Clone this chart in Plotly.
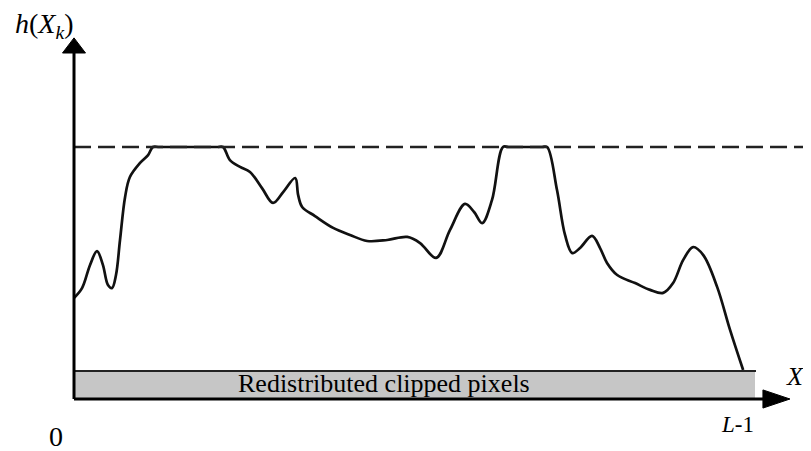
import plotly.graph_objects as go

# Histogram h(X_k) (gray level 0..255, clip limit = 100)
gray_levels = [0, 3.0, 6.0, 8.6, 10.8, 12.7, 14.2, 15.7, 17.2, 19.1, 20.9, 24.7, 27.7, 29.5, 32.0,
               53.5, 55.7, 58.3, 62.1, 65.8, 70.3, 74.4, 78.2, 82.7, 83.8, 85.3, 90.1, 96.9, 103.2,
               109.6, 117.1, 124.6, 129.4, 135.4, 140.6, 146.2, 149.6, 152.6, 156.3, 160.4, 162.5,
               175.0, 176.9, 180.6, 183.6, 186.3, 189.2, 193.7, 196.7, 199.3, 203.1, 209.8, 215.4,
               220.3, 224.0, 227.8, 231.5, 235.3, 240.5, 245.3, 250.2]
hist_values = [40.1, 44.0, 53.2, 58.7, 53.2, 45.2, 44.0, 49.2, 63.1, 80.2, 88.1, 93.7, 96.8, 100, 100,
               100, 100, 94.8, 92.1, 90.1, 83.7, 77.8, 82.1, 87.7, 81.0, 76.2, 72.6, 67.9, 65.1,
               62.7, 63.1, 64.3, 61.9, 56.0, 67.1, 77.4, 74.2, 69.8, 79.0, 100, 100,
               100, 100, 82.9, 65.1, 57.9, 59.9, 64.7, 59.9, 54.0, 49.2, 46.0, 43.3,
               42.1, 46.0, 55.2, 60.3, 57.1, 44.4, 27.4, 11.5]
clip_limit = 100
redistributed = 11.1
max_level = 255

SERIF = "Liberation Serif, Times New Roman, serif"

fig = go.Figure()
fig.add_trace(go.Scatter(x=gray_levels, y=hist_values, mode="lines",
                         line=dict(color="#111", width=2.7, shape="spline", smoothing=1.0),
                         hoverinfo="skip", showlegend=False))

shapes = [
    # redistributed clipped pixels bar
    dict(type="rect", x0=0, x1=max_level, y0=0, y1=redistributed, fillcolor="#c6c6c6",
         line=dict(color="white", width=2), layer="below"),
    dict(type="line", x0=0, x1=max_level, y0=redistributed, y1=redistributed,
         line=dict(color="#222", width=2)),
    # clip limit dashed line
    dict(type="line", x0=0, x1=272.6, y0=clip_limit, y1=clip_limit,
         line=dict(color="#222", width=2.5, dash="17px,7px")),
    # y axis
    dict(type="line", x0=0, x1=0, y0=0, y1=138, line=dict(color="black", width=3)),
    dict(type="path", path="M -4.3,137.3 L 4.3,137.3 L 0,143.3 Z", fillcolor="black",
         line=dict(color="black", width=1)),
    # x axis
    dict(type="line", x0=0, x1=258, y0=0, y1=0, line=dict(color="black", width=3)),
    dict(type="path", path="M 257.6,-3.6 L 257.6,3.6 L 267.7,0 Z", fillcolor="black",
         line=dict(color="black", width=1)),
]

annotations = [
    dict(x=-11.2, y=148.4, text="<i>h</i>(<i>X<sub>k</sub></i>)", showarrow=False,
         font=dict(family=SERIF, size=28, color="black")),
    dict(x=265.5, y=8.3, xanchor="left", text="<i>X<sub>k</sub></i>", showarrow=False,
         font=dict(family=SERIF, size=26, color="black")),
    dict(x=247.9, y=-10.3, text="<i>L</i>-1", showarrow=False,
         font=dict(family=SERIF, size=23, color="black")),
    dict(x=-6.7, y=-14.7, text="0", showarrow=False,
         font=dict(family=SERIF, size=28, color="black")),
    dict(x=115.9, y=6.0, text="Redistributed clipped pixels", showarrow=False,
         font=dict(family=SERIF, size=26, color="black")),
]

fig.update_layout(
    width=811, height=451, margin=dict(l=0, r=0, t=0, b=0),
    paper_bgcolor="white", plot_bgcolor="white",
    xaxis=dict(range=[-24.68, 278.56], visible=False, fixedrange=True),
    yaxis=dict(range=[-23.81, 155.16], visible=False, fixedrange=True),
    shapes=shapes, annotations=annotations, showlegend=False,
)

fig.write_html("out.html")
